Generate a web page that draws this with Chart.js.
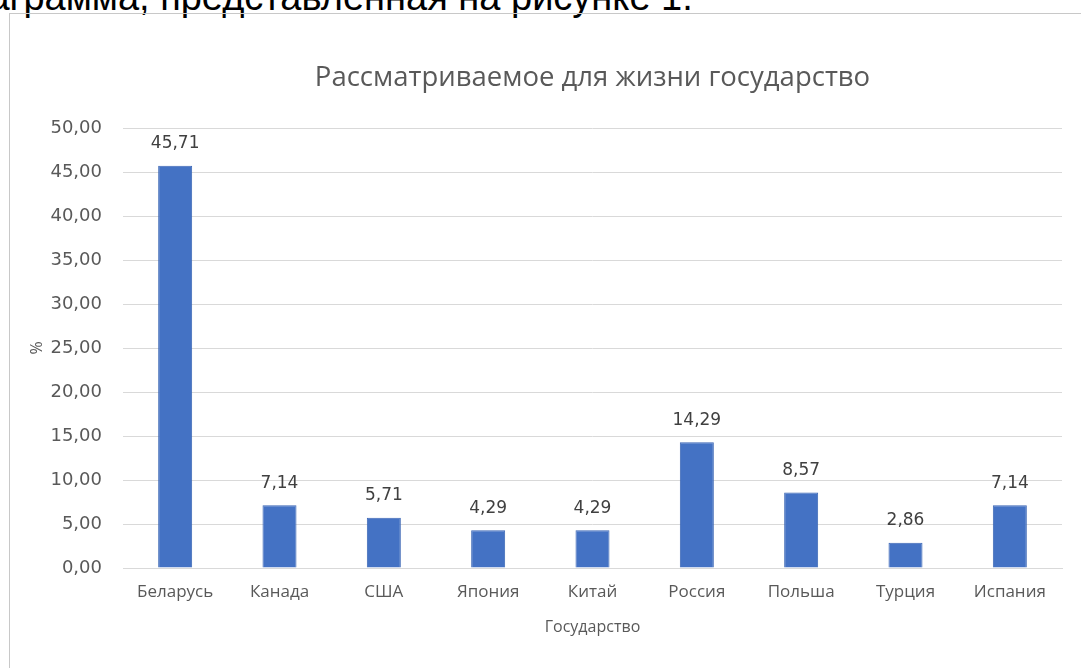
<!DOCTYPE html>
<html>
<head>
<meta charset="utf-8">
<script src="https://cdn.jsdelivr.net/npm/chart.js@4"></script>
<style>
  body { margin: 0; background: #fff; overflow: hidden; }
  #caption {
    position: absolute; left: -55px; top: -24px; line-height: 38px;
    font: 38px "Liberation Sans", Arial, sans-serif; color: #000; white-space: nowrap;
  }
  #box {
    position: absolute; left: 9px; top: 13px; width: 1090px; height: 670px;
    border: 1px solid #c8c8c8; box-sizing: border-box;
  }
  #wrap { position: absolute; left: 0; top: 0; width: 1071px; height: 654px; }
</style>
</head>
<body>
<div id="caption">диаграмма, представленная на рисунке 1.</div>
<div id="box"><div id="wrap"><canvas id="chart"></canvas></div></div>
<script>
const countries = ["Беларусь", "Канада", "США", "Япония", "Китай", "Россия", "Польша", "Турция", "Испания"];
const shares = [45.71, 7.14, 5.71, 4.29, 4.29, 14.29, 8.57, 2.86, 7.14];

const fmt = v => v.toFixed(2).replace(".", ",");
const textFont = '"Open Sans", "Noto Sans", sans-serif';
const numFont = '"DejaVu Sans", sans-serif';

// value labels above the bars
const barLabels = {
  id: "barLabels",
  afterDatasetsDraw(chart) {
    const ctx = chart.ctx;
    ctx.save();
    ctx.font = "17px " + numFont;
    ctx.fillStyle = "#404040";
    ctx.textAlign = "center";
    ctx.textBaseline = "middle";
    chart.getDatasetMeta(0).data.forEach((bar, i) => {
      ctx.fillText(fmt(shares[i]), bar.x, bar.y - 22);
    });
    ctx.restore();
  }
};

new Chart(document.getElementById("chart"), {
  type: "bar",
  data: {
    labels: countries,
    datasets: [{
      label: "%",
      data: shares,
      backgroundColor: "#4472C4",
      borderColor: "#3b66b5",
      borderWidth: 1,
      categoryPercentage: 1,
      barPercentage: 0.326
    }]
  },
  options: {
    responsive: true,
    maintainAspectRatio: false,
    animation: false,
    layout: { padding: { top: 0, right: 19, bottom: 0, left: 0 } },
    plugins: {
      legend: { display: false },
      tooltip: { enabled: false },
      title: {
        display: true,
        fullSize: false,
        text: "Рассматриваемое для жизни государство",
        color: "#595959",
        font: { family: textFont, size: 27.5, weight: "normal" },
        padding: { top: 48, bottom: 33 }
      }
    },
    scales: {
      x: {
        afterFit: s => { s.height = 100; },
        grid: { display: false, drawTicks: false },
        border: { color: "#d9d9d9" },
        ticks: { color: "#595959", font: { family: textFont, size: 17 }, padding: 14 },
        title: {
          display: true, text: "Государство", color: "#595959",
          font: { family: textFont, size: 16 }, padding: { top: 0, bottom: 31 }
        }
      },
      y: {
        min: 0, max: 50,
        afterFit: s => { s.width = 113; },
        border: { display: false },
        grid: { color: "#d9d9d9", drawTicks: false },
        ticks: {
          stepSize: 5, color: "#595959", padding: 21,
          font: { family: numFont, size: 18 },
          callback: v => fmt(v)
        },
        title: {
          display: true, text: "%", color: "#595959",
          font: { family: textFont, size: 16 }, padding: { top: 18, bottom: 0 }
        }
      }
    }
  },
  plugins: [barLabels]
});
</script>
</body>
</html>
